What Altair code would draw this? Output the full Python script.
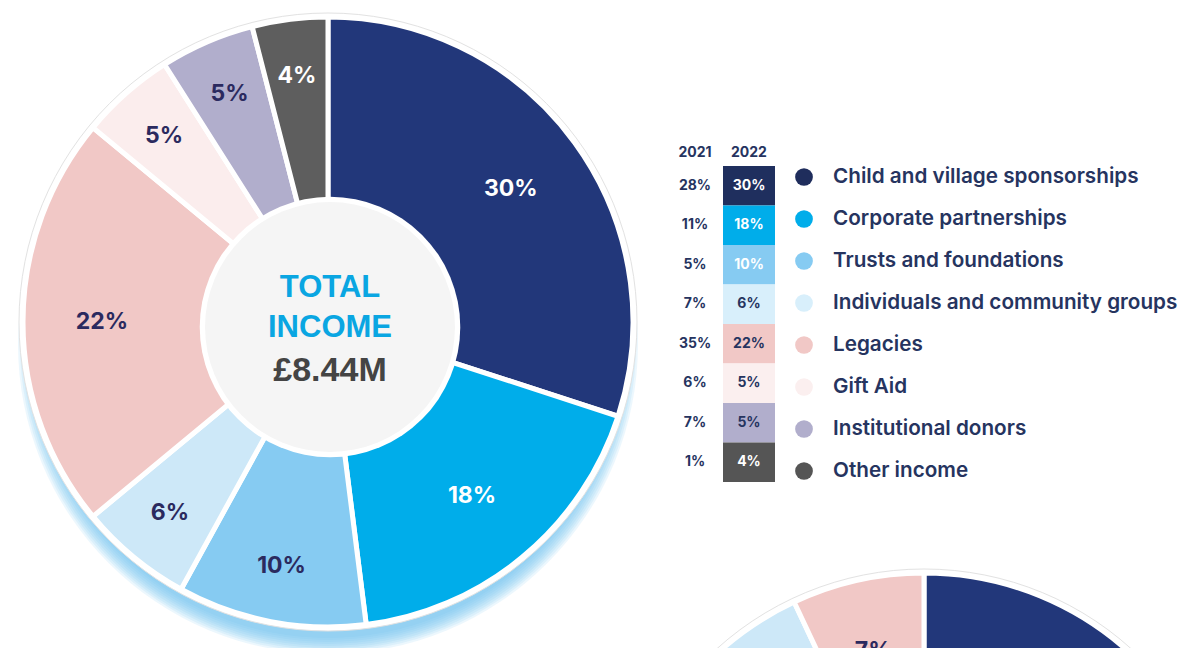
import math
import altair as alt
import pandas as pd

# ---------------- data ----------------
categories = [
    "Child and village sponsorships",
    "Corporate partnerships",
    "Trusts and foundations",
    "Individuals and community groups",
    "Legacies",
    "Gift Aid",
    "Institutional donors",
    "Other income",
]
share_2022 = [30, 18, 10, 6, 22, 5, 5, 4]
share_2021 = [28, 11, 5, 7, 35, 6, 7, 1]
years = ["2021", "2022"]
center_lines = ["TOTAL", "INCOME", "£8.44M"]

# second (partially visible) pie at the bottom right
pie2_categories = categories[:5]
pie2_share = [52, 20, 12, 9, 7]

# ---------------- styles ----------------
pie_colors = ["#22377a", "#00adea", "#86cbf2", "#cde8f8", "#f1c8c6", "#fbeded", "#b1aecc", "#5e5e5e"]
pie_label_colors = ["#ffffff", "#ffffff", "#2b2a5f", "#2b2a5f", "#2b2a5f", "#2b2a5f", "#2b2a5f", "#ffffff"]
table_colors = ["#1f2f5e", "#00adea", "#86cbf2", "#d8effb", "#f1c8c6", "#fbefef", "#b1aecc", "#555555"]
table_text_colors = ["#ffffff", "#ffffff", "#ffffff", "#26345f", "#26345f", "#26345f", "#26345f", "#ffffff"]
legend_colors = ["#1f2d5c", "#00adea", "#86cbf2", "#d8effb", "#f1c8c6", "#fbefef", "#b1aecc", "#555555"]
DARK = "#26345f"
FONT = "Inter"

W, H = 1170, 640
P1 = (320, 314)      # pie 1 centre
HOLE = (322, 319)    # centre disc
P2 = (916, 870)      # pie 2 centre
R_OUT = 305
R_RING = 309
TAU = 2 * math.pi


def ring_disc(cx, cy, r, fill, opacity=1.0, stroke=None, sw=0.0, clip=False):
    kw = dict(outerRadius=r, innerRadius=0, theta=0, theta2=TAU, color=fill, fill=fill,
              opacity=opacity, clip=clip)
    if stroke:
        kw.update(stroke=stroke, strokeWidth=sw)
    return alt.Chart(alt.Data(values=[{}])).mark_arc(**kw).encode(
        x=alt.value(cx), y=alt.value(cy)
    )


def disc(cx, cy, r, fill, opacity=1.0):
    return alt.Chart(alt.Data(values=[{}])).mark_circle(
        size=math.pi * r * r, color=fill, opacity=opacity
    ).encode(x=alt.value(cx), y=alt.value(cy))


def pie_layers(cats, shares, center, small_r, clip=False):
    df = pd.DataFrame({"cat": cats, "share": shares, "idx": list(range(len(cats)))})
    arcs = alt.Chart(df).mark_arc(outerRadius=R_OUT, stroke="white", strokeWidth=5, clip=clip).encode(
        theta=alt.Theta("share:Q", stack=True),
        order=alt.Order("idx:Q"),
        x=alt.value(center[0]),
        y=alt.value(center[1]),
        color=alt.Color("cat:N", scale=alt.Scale(domain=categories, range=pie_colors), legend=None),
    )
    labels = (
        alt.Chart(df)
        .transform_stack(stack="share", as_=["s0", "s1"], groupby=[],
                         sort=[alt.SortField("idx", order="ascending")])
        .transform_calculate(
            mid="(datum.s0 + datum.s1) / 2",
            lr=f"datum.share >= 18 ? 226 : {small_r}",
            txt="datum.share + '%'",
        )
        .mark_text(font=FONT, fontSize=23, fontWeight="bold", baseline="middle", clip=clip)
        .encode(
            theta=alt.Theta("mid:Q", stack=False),
            radius=alt.Radius("lr:Q", scale=None),
            x=alt.value(center[0]),
            y=alt.value(center[1]),
            text=alt.Text("txt:N"),
            color=alt.Color("cat:N", scale=alt.Scale(domain=categories, range=pie_label_colors), legend=None),
        )
    )
    return arcs, labels


layers = []

# soft blue drop shadow under pie 1
for r in [294, 296, 298, 300, 302, 304, 306, 308, 310]:
    layers.append(ring_disc(P1[0], P1[1] + 22, r, "#6cbff0", opacity=0.13))

# outer white ring with faint outline
layers.append(ring_disc(P1[0], P1[1], R_RING, "#ffffff", stroke="#e2e2e2", sw=1))
arcs1, labels1 = pie_layers(categories, share_2022, P1, 248)
layers.append(arcs1)
# centre disc
layers.append(disc(HOLE[0], HOLE[1], 147, "#ffffff"))
layers.append(disc(HOLE[0], HOLE[1], 141, "#f5f5f5"))
layers.append(labels1)

# centre text
for line, yy, col, fs in zip(center_lines, [280, 320, 363], ["#0aa6e2", "#0aa6e2", "#444444"], [31, 31, 34]):
    layers.append(
        alt.Chart(alt.Data(values=[{}]))
        .mark_text(text=line, font="Liberation Sans", fontSize=fs, fontWeight="bold", color=col, baseline="middle")
        .encode(x=alt.value(HOLE[0]), y=alt.value(yy))
    )

# second pie (cropped)
layers.append(ring_disc(P2[0], P2[1], R_RING, "#ffffff", stroke="#e2e2e2", sw=1, clip=True))
arcs2, labels2 = pie_layers(pie2_categories, pie2_share, P2, 233, clip=True)
layers.append(arcs2)
layers.append(labels2)

# ---------------- table ----------------
dft = pd.DataFrame({
    "cat": categories,
    "t21": [f"{v}%" for v in share_2021],
    "t22": [f"{v}%" for v in share_2022],
})
yband = alt.Y(
    "cat:N", axis=None, sort=categories,
    scale=alt.Scale(type="band", domain=categories, range=[158, 474], paddingInner=0, paddingOuter=0),
)
layers.append(
    alt.Chart(dft).mark_rect().encode(
        y=yband, x=alt.value(715), x2=alt.value(767),
        color=alt.Color("cat:N", scale=alt.Scale(domain=categories, range=table_colors), legend=None),
    )
)
layers.append(
    alt.Chart(dft).mark_text(font=FONT, fontSize=14, fontWeight="bold", baseline="middle").encode(
        y=yband, x=alt.value(741), text="t22:N",
        color=alt.Color("cat:N", scale=alt.Scale(domain=categories, range=table_text_colors), legend=None),
    )
)
layers.append(
    alt.Chart(dft).mark_text(font=FONT, fontSize=14, fontWeight="bold", baseline="middle", color=DARK).encode(
        y=yband, x=alt.value(687), text="t21:N",
    )
)
layers.append(
    alt.Chart(pd.DataFrame({"year": years})).mark_text(
        font=FONT, fontSize=14, fontWeight="bold", baseline="middle", color=DARK
    ).encode(
        x=alt.X("year:N", axis=None, scale=alt.Scale(type="point", domain=years, range=[687, 741], padding=0)),
        y=alt.value(145),
        text="year:N",
    )
)

# ---------------- legend ----------------
ypt = alt.Y(
    "cat:N", axis=None, sort=categories,
    scale=alt.Scale(type="point", domain=categories, range=[169, 463], padding=0),
)
layers.append(
    alt.Chart(dft).mark_circle(size=314, opacity=1).encode(
        y=ypt, x=alt.value(796),
        color=alt.Color("cat:N", scale=alt.Scale(domain=categories, range=legend_colors), legend=None),
    )
)
layers.append(
    alt.Chart(dft).mark_text(
        font=FONT, fontSize=20.7, fontWeight=600, align="left", baseline="middle", color=DARK
    ).encode(y=ypt, x=alt.value(825), text="cat:N")
)

chart = (
    alt.layer(*layers)
    .resolve_scale(x="independent", y="independent", color="independent")
    .properties(width=W, height=H, padding=0, autosize=alt.AutoSizeParams(type="none"))
    .configure_view(stroke=None)
)

chart.save("out.html", embed_options={"renderer": "svg", "actions": False})
